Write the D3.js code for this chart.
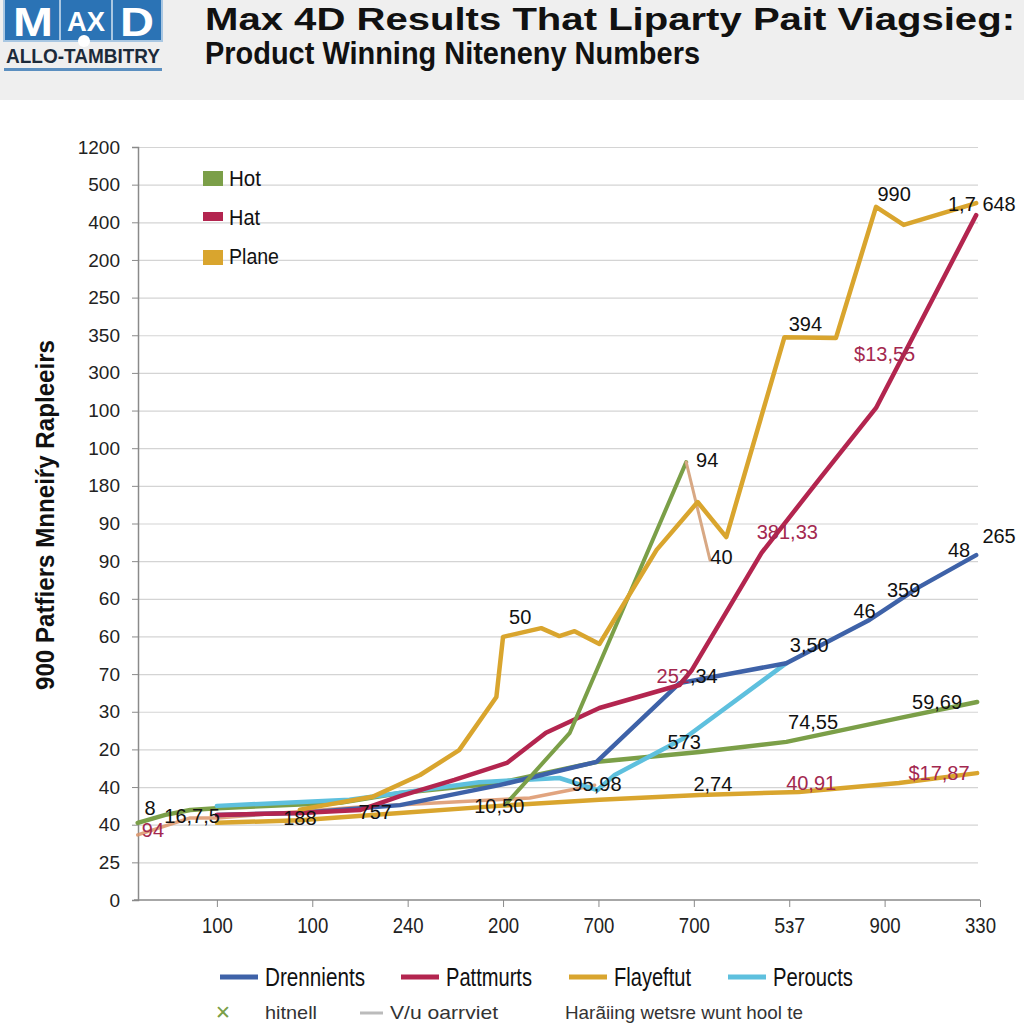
<!DOCTYPE html>
<html><head><meta charset="utf-8">
<script src="https://cdn.jsdelivr.net/npm/d3@7"></script>
<style>
html,body{margin:0;padding:0;background:#fff;}
svg{display:block;}
</style></head>
<body>
<svg id="chart" width="1024" height="1024"></svg>
<script>
// ---------- DATA ----------
const titleLines = ["Max 4D Results That Liparty Pait Viagsieg:", "Product Winning  Niteneny Numbers"];
const yAxisTitle = "900  Patfiers Mnneiŕy Rapleeirs";
// y tick labels, bottom to top (categorical positions 0..20)
const yTickLabels = ["0","25","40","40","20","30","70","60","60","90","90","180","100","100","300","350","250","200","400","500","1200"];
const xTickLabels = ["100","100","240","200","700","700","5з7","900","330"];

const topLegend = ["Hot","Hat","Plane"];
const bottomLegend = ["Drennients","Pattmurts","Flayeftut","Peroucts"];
const cutLegend = ["hitnell","V/u oarrviet","Harãiing wetsre wunt hool te"];

// series (x = category position, y = grid position)
const xPlane = [1.87,2.63,3.13,3.54,3.93,4.0,4.40,4.59,4.75,5.01,5.61,6.04,6.34,6.95,7.49,7.91,8.20,8.96];
const yPlane = [2.40,2.74,3.32,3.98,5.39,6.99,7.22,7.01,7.14,6.80,9.30,10.57,9.64,14.95,14.93,18.41,17.93,18.51];

const xFlay = [1.0,1.87,2.92,3.96,5.01,6.06,7.10,8.15,8.97];
const yFlay = [2.05,2.12,2.31,2.50,2.66,2.79,2.87,3.11,3.37];

const xHot = [0.17,0.46,0.72,1.0,2.29,2.92,3.96,4.99,6.06,6.97,8.15,8.97];
const yHot = [2.05,2.26,2.39,2.44,2.58,2.84,3.11,3.67,3.93,4.20,4.83,5.26];

const xHotSpike = [4.02,4.70,5.92];
const yHotSpike = [2.52,4.44,11.63];

const xTanDrop = [5.92,6.17];
const yTanDrop = [11.63,9.03];

const xHat = [1.0,1.87,2.50,2.92,3.49,4.04,4.45,5.01,5.85,5.98,6.71,7.31,7.91,8.96];
const yHat = [2.26,2.31,2.39,2.76,3.19,3.64,4.44,5.10,5.71,6.11,9.22,11.16,13.07,18.19];

const xDren = [1.0,1.87,2.92,3.96,4.98,5.85,6.97,7.84,8.36,8.96];
const yDren = [2.26,2.31,2.52,3.05,3.67,5.76,6.29,7.44,8.31,9.16];

const xPer = [1.0,2.39,3.75,4.59,4.99,5.17,5.92,6.97];
const yPer = [2.50,2.66,3.13,3.24,2.92,3.32,4.33,6.29];

const xTan = [0.17,0.72,1.0,2.50,4.28,4.96];
const yTan = [1.73,2.18,2.18,2.47,2.71,3.05];

const dataLabels = [
 {x:0.30,y:2.44,p:[["8","k"]]},
 {x:0.33,y:1.86,p:[["94","r"]]},
 {x:0.74,y:2.23,p:[["16,7,5","k"]]},
 {x:1.87,y:2.18,p:[["188","k"]]},
 {x:2.66,y:2.34,p:[["757","k"]]},
 {x:3.96,y:2.50,p:[["10,50","k"]]},
 {x:4.18,y:7.52,p:[["50","k"]]},
 {x:6.14,y:11.69,p:[["94","k"]]},
 {x:6.29,y:9.11,p:[["40","k"]]},
 {x:7.17,y:15.30,p:[["394","k"]]},
 {x:8.10,y:18.75,p:[["990","k"]]},
 {x:8.81,y:18.49,p:[["1,7","k"]]},
 {x:9.20,y:18.49,p:[["648","k"]]},
 {x:8.0,y:14.50,p:[["$13,55","r"]]},
 {x:6.98,y:9.77,p:[["381,33","r"]]},
 {x:9.20,y:9.67,p:[["265","k"]]},
 {x:8.78,y:9.30,p:[["48","k"]]},
 {x:8.20,y:8.23,p:[["359","k"]]},
 {x:7.79,y:7.68,p:[["46","k"]]},
 {x:7.21,y:6.77,p:[["3,50","k"]]},
 {x:5.93,y:5.95,p:[["252","r"],[",34","k"]]},
 {x:5.90,y:4.20,p:[["573","k"]]},
 {x:7.25,y:4.73,p:[["74,55","k"]]},
 {x:8.55,y:5.26,p:[["59,69","k"]]},
 {x:4.98,y:3.08,p:[["95,98","k"]]},
 {x:6.20,y:3.08,p:[["2,74","k"]]},
 {x:7.23,y:3.11,p:[["40,91","r"]]},
 {x:8.57,y:3.37,p:[["$17,87","r"]]}
];

// ---------- STYLE ----------
const C = {green:"#7b9f48", red:"#b3254f", gold:"#d9a52e", blue:"#3e62a8", lblue:"#5ec0de", tan:"#dc9468", text:"#111"};
const SANS = "'Liberation Sans',Arial,sans-serif";

const svg = d3.select("#chart");
svg.append("rect").attr("width",1024).attr("height",1024).attr("fill","#fff");

// helper: condensed text (narrow look via textLength)
function ctext(parent, xx, yy, str, size, len, opts){
  opts = opts || {};
  const t = parent.append("text").attr("x",xx).attr("y",yy).attr("font-family",SANS).attr("font-size",size)
    .attr("fill",opts.fill||"#111").text(str);
  if (opts.bold) t.attr("font-weight","bold");
  if (opts.anchor) t.attr("text-anchor",opts.anchor);
  if (len) t.attr("textLength",len).attr("lengthAdjust","spacingAndGlyphs");
  return t;
}

// header band
svg.append("rect").attr("x",0).attr("y",0).attr("width",1024).attr("height",100).attr("fill","#efefef");

// logo
const logo = svg.append("g");
logo.append("rect").attr("x",4).attr("y",-4).attr("width",158).attr("height",45).attr("fill","#2b73b5").attr("stroke","#a9c7e2").attr("stroke-width",2);
logo.append("line").attr("x1",60).attr("x2",60).attr("y1",-4).attr("y2",41).attr("stroke","#a9c7e2").attr("stroke-width",2);
logo.append("line").attr("x1",112).attr("x2",112).attr("y1",-4).attr("y2",41).attr("stroke","#a9c7e2").attr("stroke-width",2);
ctext(logo, 33, 36, "M", 40, 40, {bold:true, fill:"#fff", anchor:"middle"});
ctext(logo, 86, 31, "AX", 27, 38, {bold:true, fill:"#fff", anchor:"middle"});
logo.append("circle").attr("cx",84).attr("cy",41).attr("r",6).attr("fill","#fff");
ctext(logo, 137, 36, "D", 40, 34, {bold:true, fill:"#fff", anchor:"middle"});
ctext(logo, 6, 63, "ALLO-TAMBITRY", 20, 154, {bold:true, fill:"#1c2a3a"});
logo.append("rect").attr("x",4).attr("y",68).attr("width",158).attr("height",3).attr("fill","#5b8fc0");

// title
ctext(svg, 205, 30, titleLines[0], 31, 810, {bold:true});
ctext(svg, 205, 64, titleLines[1], 32, 495, {bold:true});

// scales
const x = d3.scaleLinear().domain([0,9]).range([121.5,980]);
const y = d3.scaleLinear().domain([0,20]).range([900,147]);
const plotLeft = 138, plotRight = 978;

// gridlines
const grid = svg.append("g").attr("transform",`translate(${plotLeft},0)`)
  .call(d3.axisLeft(y).tickValues(d3.range(1,21)).tickSize(-(plotRight-plotLeft)).tickFormat(""));
grid.select(".domain").remove();
grid.selectAll("line").attr("stroke","#d4d4d4").attr("stroke-width",1.2);

// y axis
const yAx = svg.append("g").attr("transform",`translate(${plotLeft},0)`)
  .call(d3.axisLeft(y).tickValues(d3.range(0,21)).tickSize(6).tickPadding(12).tickFormat(i=>yTickLabels[i]));
yAx.select(".domain").attr("stroke","#8a8a8a").attr("stroke-width",1.5);
yAx.selectAll("line").attr("stroke","#8a8a8a");
yAx.selectAll("text").attr("font-family",SANS).attr("font-size",19).attr("fill","#222");

// x axis
const xAx = svg.append("g").attr("transform","translate(0,900)")
  .call(d3.axisBottom(x).tickValues(d3.range(1,10)).tickSize(7).tickPadding(10).tickFormat(i=>xTickLabels[i-1]));
xAx.select(".domain").remove();
xAx.append("line").attr("x1",plotLeft-4).attr("x2",x(9)).attr("y1",0).attr("y2",0).attr("stroke","#8a8a8a").attr("stroke-width",1.5);
xAx.selectAll(".tick line").attr("stroke","#8a8a8a");
xAx.selectAll("text").attr("font-family",SANS).attr("font-size",22).attr("fill","#222")
  .attr("textLength",31).attr("lengthAdjust","spacingAndGlyphs");

// y title
svg.append("text").attr("transform","translate(54,515) rotate(-90)").attr("text-anchor","middle")
  .attr("font-family",SANS).attr("font-weight","bold").attr("font-size",25)
  .attr("textLength",350).attr("lengthAdjust","spacingAndGlyphs").attr("fill",C.text).text(yAxisTitle);

// lines
const line = d3.line().x(d=>x(d[0])).y(d=>y(d[1])).curve(d3.curveLinear);
function drawSeries(xs, ys, color, w, op){
  svg.append("path").datum(d3.zip(xs,ys)).attr("d",line).attr("fill","none")
    .attr("stroke",color).attr("stroke-width",w).attr("stroke-linejoin","round").attr("stroke-linecap","round")
    .attr("opacity",op||1);
}
drawSeries(xTan,yTan,C.tan,3.5,0.85);
drawSeries(xFlay,yFlay,C.gold,4.5);
drawSeries(xHot,yHot,C.green,4.5);
drawSeries(xPer,yPer,C.lblue,4.5);
drawSeries(xDren,yDren,C.blue,4.5);
drawSeries(xHat,yHat,C.red,4.5);
drawSeries(xHotSpike,yHotSpike,C.green,4);
drawSeries(xTanDrop,yTanDrop,"#d8a884",3);
drawSeries(xPlane,yPlane,C.gold,4.5);

// data labels
const lab = svg.append("g");
dataLabels.forEach(d=>{
  const t = lab.append("text").attr("x",x(d.x)).attr("y",y(d.y)).attr("text-anchor","middle").attr("dy","0.35em")
    .attr("font-family",SANS).attr("font-size",20);
  d.p.forEach(p=>t.append("tspan").attr("fill",p[1]==="r"?"#a3284f":"#111").text(p[0]));
});

// top legend
const topColors = [C.green, C.red, C.gold];
const topSw = [[171,15],[212,9],[250,15]];
const topLen = [32, 31, 50];
topLegend.forEach((name,i)=>{
  svg.append("rect").attr("x",203).attr("y",topSw[i][0]).attr("width",20).attr("height",topSw[i][1]).attr("fill",topColors[i]);
  ctext(svg, 229, 186+i*39, name, 22, topLen[i]);
});

// bottom legend
const botColors = [C.blue, C.red, C.gold, C.lblue];
const botX = [220, 401, 569, 728];
const botLen = [100, 86, 77, 80];
bottomLegend.forEach((name,i)=>{
  svg.append("line").attr("x1",botX[i]).attr("x2",botX[i]+38).attr("y1",977).attr("y2",977).attr("stroke",botColors[i]).attr("stroke-width",5);
  ctext(svg, botX[i]+45, 986, name, 25, botLen[i]);
});

// bottom row (partly visible in the reference)
svg.append("text").attr("x",215).attr("y",1019).attr("font-family",SANS).attr("font-size",19).attr("fill",C.green).text("✕");
ctext(svg, 265, 1019, cutLegend[0], 19, 52, {fill:"#333"});
svg.append("line").attr("x1",360).attr("x2",383).attr("y1",1013).attr("y2",1013).attr("stroke","#bbb").attr("stroke-width",3);
ctext(svg, 390, 1019, cutLegend[1], 19, 108, {fill:"#333"});
ctext(svg, 565, 1019, cutLegend[2], 19, 238, {fill:"#333"});
</script>
</body></html>
